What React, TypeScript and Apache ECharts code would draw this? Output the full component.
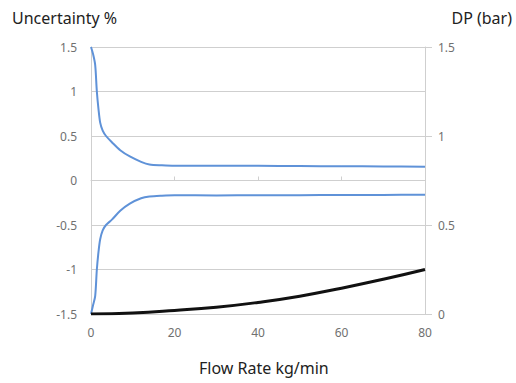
import React, { useEffect, useRef } from "react";
import * as echarts from "echarts";

const flowRates = [0, 0.5, 1, 1.4, 1.8, 2.2, 2.8, 3.6, 5, 7, 9.3, 12, 14, 17, 20, 30, 40, 50, 60, 70, 80];
const upperUncertainty = [1.5, 1.42, 1.3, 1.0, 0.8, 0.65, 0.56, 0.5, 0.43, 0.34, 0.27, 0.21, 0.18, 0.17, 0.165, 0.165, 0.165, 0.163, 0.16, 0.158, 0.155];
const lowerUncertainty = [-1.5, -1.4, -1.3, -1.0, -0.8, -0.66, -0.56, -0.5, -0.44, -0.34, -0.26, -0.2, -0.18, -0.17, -0.165, -0.168, -0.165, -0.165, -0.163, -0.162, -0.16];
const dpRates = [0, 10, 20, 30, 40, 50, 60, 70, 80];
const dpValues = [0, 0.006, 0.02, 0.038, 0.065, 0.1, 0.145, 0.195, 0.25];

const leftTitle = "Uncertainty %";
const rightTitle = "DP (bar)";
const xTitle = "Flow Rate kg/min";

export default function App() {
  const ref = useRef<HTMLDivElement>(null);
  useEffect(() => {
    if (!ref.current) return;
    const chart = echarts.init(ref.current, undefined, { renderer: "svg" });
    const font = "Noto Sans";
    const labelColor = "#707070";
    const gridColor = "#cfcfcf";
    chart.setOption({
      animation: false,
      textStyle: { fontFamily: font },
      grid: { left: 91, right: 91, top: 47, bottom: 69 },
      graphic: [
        { type: "text", left: 12, top: 10, style: { text: leftTitle, fontSize: 16, fill: "#222", fontFamily: font } },
        { type: "text", right: 4, top: 10, style: { text: rightTitle, fontSize: 16, fill: "#222", fontFamily: font } },
        { type: "text", left: 199, top: 360, style: { text: xTitle, fontSize: 16, fill: "#222", fontFamily: font } },
      ],
      xAxis: {
        type: "value",
        min: 0,
        max: 80,
        interval: 20,
        axisLine: { show: true, lineStyle: { color: gridColor } },
        axisTick: { show: true, inside: true, length: 4, lineStyle: { color: gridColor } },
        axisLabel: { color: labelColor, fontSize: 12, margin: 12 },
        splitLine: { show: false },
      },
      yAxis: [
        {
          type: "value",
          min: -1.5,
          max: 1.5,
          interval: 0.5,
          position: "left",
          axisLine: { show: true, lineStyle: { color: gridColor } },
          axisTick: { show: false },
          axisLabel: { color: labelColor, fontSize: 12, margin: 14 },
          splitLine: { show: true, lineStyle: { color: gridColor } },
        },
        {
          type: "value",
          min: 0,
          max: 1.5,
          interval: 0.5,
          position: "right",
          axisLine: { show: true, lineStyle: { color: gridColor } },
          axisTick: { show: true, length: 7, lineStyle: { color: gridColor } },
          axisLabel: { color: labelColor, fontSize: 12, margin: 13 },
          splitLine: { show: false },
        },
      ],
      series: [
        {
          type: "line",
          yAxisIndex: 0,
          smooth: 0.3,
          showSymbol: false,
          lineStyle: { color: "#5f92d8", width: 2 },
          data: flowRates.map((x, i) => [x, upperUncertainty[i]]),
        },
        {
          type: "line",
          yAxisIndex: 0,
          smooth: 0.3,
          showSymbol: false,
          lineStyle: { color: "#5f92d8", width: 2 },
          data: flowRates.map((x, i) => [x, lowerUncertainty[i]]),
        },
        {
          type: "line",
          yAxisIndex: 1,
          smooth: true,
          showSymbol: false,
          lineStyle: { color: "#111", width: 3 },
          data: dpRates.map((x, i) => [x, dpValues[i]]),
        },
      ],
    });
    return () => chart.dispose();
  }, []);
  return <div ref={ref} style={{ width: 516, height: 383, position: "absolute", left: 0, top: 0 }} />;
}
